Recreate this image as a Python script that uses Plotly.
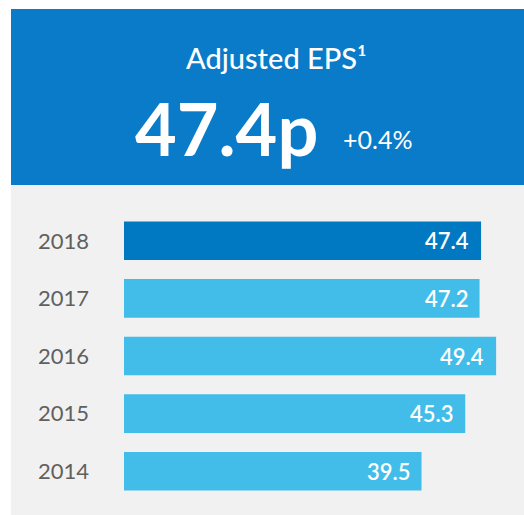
import plotly.graph_objects as go

years = ["2018", "2017", "2016", "2015", "2014"]
eps = [47.4, 47.2, 49.4, 45.3, 39.5]
bar_colors = ["#0079c2", "#42bde9", "#42bde9", "#42bde9", "#42bde9"]
title_text = "Adjusted EPS¹"
headline = "47.4p"
change = "+0.4%"

W, H = 524, 515
FONT = "Lato"
order = years[::-1]

fig = go.Figure()
fig.add_trace(go.Bar(
    y=years, x=eps, orientation="h",
    marker=dict(color=bar_colors, line=dict(width=0)),
    width=0.67, hoverinfo="skip",
))

for yv, xv in zip(years, eps):
    fig.add_annotation(x=xv, y=order.index(yv), text=f"{xv:.1f}", showarrow=False,
                       xanchor="right", yanchor="middle", xshift=-10,
                       font=dict(family=FONT, size=22, color="white", weight=600))

def py(ypix):
    return (515 - 15 - ypix) / 288

def px(xpix):
    return (xpix - 124) / 400

# background panels
fig.add_shape(type="rect", xref="paper", yref="paper",
              x0=px(11), x1=1.0, y0=py(520), y1=py(185),
              fillcolor="#f2f1f1", line=dict(width=0), layer="below")
fig.add_shape(type="rect", xref="paper", yref="paper",
              x0=px(11), x1=1.0, y0=py(185), y1=py(9),
              fillcolor="#0a7bc8", line=dict(width=0), layer="below")

fig.add_annotation(xref="paper", yref="paper", x=px(276), y=py(57), text=title_text,
                   showarrow=False, xanchor="center", yanchor="middle",
                   font=dict(family=FONT, size=29, color="white", weight=500))
fig.add_annotation(xref="paper", yref="paper", x=px(320), y=py(128), text=f"<b>{headline}</b>",
                   showarrow=False, xanchor="right", yanchor="middle",
                   font=dict(family=FONT, size=72, color="white"))
fig.add_annotation(xref="paper", yref="paper", x=px(341), y=py(139), text=change,
                   showarrow=False, xanchor="left", yanchor="middle",
                   font=dict(family=FONT, size=25, color="white"))

fig.update_layout(
    width=W, height=H,
    margin=dict(l=124, r=0, t=212, b=15),
    paper_bgcolor="white", plot_bgcolor="rgba(0,0,0,0)",
    showlegend=False,
    xaxis=dict(range=[0, 53.1], visible=False, fixedrange=True),
    yaxis=dict(type="category", categoryorder="array", categoryarray=order,
               range=[-0.5, 4.5], showgrid=False, zeroline=False, showline=False,
               ticks="", ticklabelstandoff=34,
               tickfont=dict(family=FONT, size=22, color="#606060")),
)

fig.write_html("out.html")
